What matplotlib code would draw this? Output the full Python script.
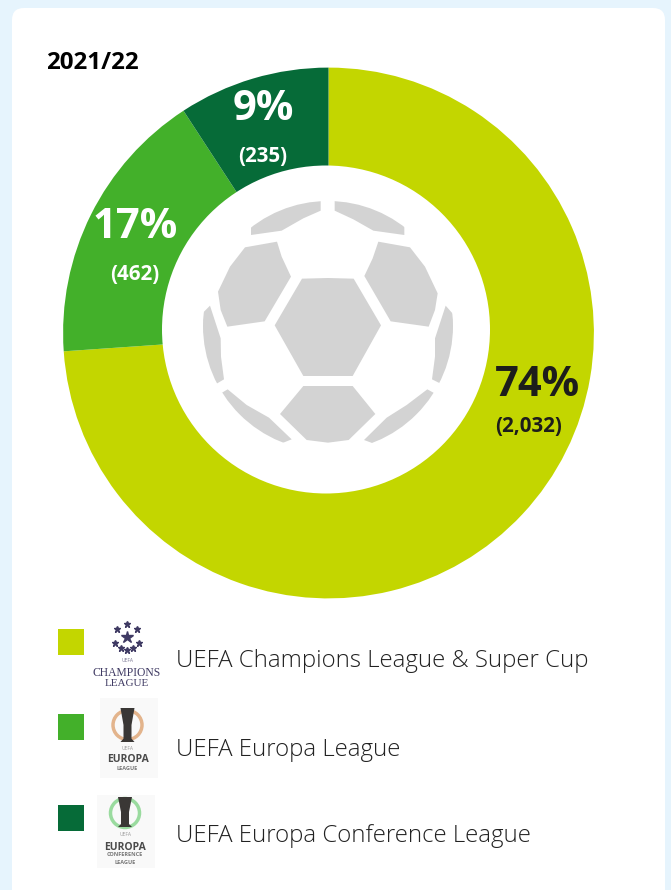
import matplotlib
matplotlib.use('Agg')
import matplotlib.pyplot as plt
from matplotlib.patches import FancyBboxPatch, Polygon, Rectangle, Circle

W, H = 671, 890

# chart data
season = '2021/22'
competitions = ['UEFA Champions League & Super Cup', 'UEFA Europa League', 'UEFA Europa Conference League']
shares = [74, 17, 9]
# slices as measured on the picture, a little off the printed percentages
slice_sizes = [73.9, 16.9, 9.2]
counts = ['(2,032)', '(462)', '(235)']
colors = ['#c3d600', '#43b02a', '#066b38']
text_colors = ['#1d1d1b', 'white', 'white']

plt.rcParams['font.family'] = ['Open Sans', 'DejaVu Sans']

fig = plt.figure(figsize=(W / 100, H / 100), dpi=100, facecolor='#e6f4fd')
ax = fig.add_axes([0, 0, 1, 1])


def py(y):
    # picture coords have y going down
    return H - y


ax.add_patch(FancyBboxPatch((12, py(930)), 653, 922, boxstyle='round,pad=0,rounding_size=12',
                            fc='white', ec='none', zorder=0))

# donut, the hole sits slightly off centre in the original
cx, cy = 328.5, py(333)
ax.pie(slice_sizes, colors=colors, startangle=90, counterclock=False, center=(cx, cy), radius=265.4,
       wedgeprops={'linewidth': 0}, frame=True, normalize=True)
ax.add_patch(Circle((326, py(329.5)), 164, fc='white', ec='none', zorder=2))
ax.set_xlim(0, W)
ax.set_ylim(0, H)
ax.set_aspect('auto')
ax.axis('off')

label_pos = [(537, 386, 426), (135, 228, 274), (263, 110, 157)]
count_x = [529, 135, 263]
for i in range(3):
    x, y1, y2 = label_pos[i]
    ax.text(x, py(y1), f'{shares[i]}%', color=text_colors[i], fontsize=30, fontweight='bold',
            ha='center', va='center', zorder=4)
    ax.text(count_x[i], py(y2), counts[i], color=text_colors[i], fontsize=14.8, fontweight='bold',
            ha='center', va='center', zorder=4)

ax.text(46.5, py(63), season, color='black', fontsize=17.4, fontweight='bold', ha='left', va='center')

ball = [
    [(183, 135), (183, 50), (392, 0), (392, 62), (340, 85), (275, 122)],
    [(434, 0), (643, 50), (643, 135), (550, 122), (490, 88), (434, 62)],
    [(165, 172), (261, 155), (275, 200), (303, 260), (224, 394), (112, 410), (92, 360), (84, 305), (120, 230)],
    [(565, 155), (660, 172), (705, 230), (743, 310), (735, 360), (716, 410), (602, 394), (523, 258), (548, 205)],
    [(336, 266), (414, 264), (491, 266), (573, 406), (488, 558), (340, 558), (254, 406)],
    [(340, 588), (488, 588), (556, 672), (476, 750), (414, 758), (350, 750), (270, 672)],
    [(60, 347), (92, 445), (93, 500), (102, 568), (80, 581), (14, 620), (0, 500), (10, 397)],
    [(767, 347), (820, 407), (830, 500), (810, 610), (752, 581), (726, 568), (735, 500), (735, 445)],
    [(113, 598), (170, 645), (237, 683), (305, 748), (200, 790), (45, 638)],
    [(712, 598), (650, 645), (590, 683), (522, 750), (630, 790), (785, 638)],
]
ball_clip = Circle((328, py(326)), 125, transform=ax.transData)
for patch in ball:
    pts = [(190 + x / 3, py(190 + y / 3)) for x, y in patch]
    p = Polygon(pts, closed=True, fc='#d3d3d3', ec='none', zorder=3)
    ax.add_patch(p)
    p.set_clip_path(ball_clip)

# legend
swatch_y = [642, 727, 818]
label_y = [661, 750, 836]
for i in range(3):
    ax.add_patch(Rectangle((58, py(swatch_y[i] + 13)), 26, 26, fc=colors[i], ec='none'))
    ax.text(176, py(label_y[i]), competitions[i], color='#222222', fontsize=17.25, ha='left', va='center',
            fontweight='light')

# champions league logo
navy = '#3f3a63'
ax.plot([127], [py(637)], marker='*', ms=9, color=navy, ls='none')
for dx, dy in [(-10, -8), (10, -8), (-12, 6), (12, 6), (0, -13), (0, 13), (-6, 11), (6, 11)]:
    ax.plot([127 + dx], [py(637 + dy)], marker='*', ms=4.5, color=navy, ls='none')
ax.text(127, py(661), 'UEFA', color=navy, fontsize=3.5, ha='center', va='center', alpha=0.7)
ax.text(127, py(673), 'CHAMPIONS', color=navy, fontsize=8.4, ha='center', va='center', family='Liberation Serif')
ax.text(127, py(683), 'LEAGUE', color=navy, fontsize=8, ha='center', va='center', family='Liberation Serif')

# europa and conference league logos
logo_x = [128.5, 126]
logo_top = [698, 795]
logo_h = [80, 73]
ring_y = [725, 813]
ring = ['#e3b48c', '#9adb9f']
cup_top = [708, 797]
cup_h = [34, 30]
word_y = [760, 847]
small_lines = [[('LEAGUE', 768)], [('CONFERENCE', 855), ('LEAGUE', 863)]]
for i in range(2):
    x = logo_x[i]
    ax.add_patch(Rectangle((x - 29, py(logo_top[i] + logo_h[i])), 58, logo_h[i], fc='#f9f9f9', ec='none'))
    ax.add_patch(Circle((x - 1, py(ring_y[i])), 14.5, fc='none', ec=ring[i], lw=2.5))
    t, h = cup_top[i], cup_h[i]
    ax.add_patch(Polygon([(x - 8, py(t)), (x + 6, py(t)), (x + 3, py(t + h * 0.5)), (x + 3, py(t + h * 0.9)),
                          (x + 6, py(t + h)), (x - 8, py(t + h)), (x - 5, py(t + h * 0.9)), (x - 5, py(t + h * 0.5))],
                         closed=True, fc='#3a3735', ec='none'))
    ax.text(x - 1, py(word_y[i] - 12), 'UEFA', color='#999999', fontsize=3.5, ha='center', va='center')
    ax.text(x - 1, py(word_y[i]), 'EUROPA', color='#4a4a4a', fontsize=7.5, fontweight='bold', ha='center', va='center')
    for word, y in small_lines[i]:
        ax.text(x - 1, py(y), word, color='#777777', fontsize=4, fontweight='bold', ha='center', va='center')

fig.savefig('out.png', dpi=100, facecolor=fig.get_facecolor())
